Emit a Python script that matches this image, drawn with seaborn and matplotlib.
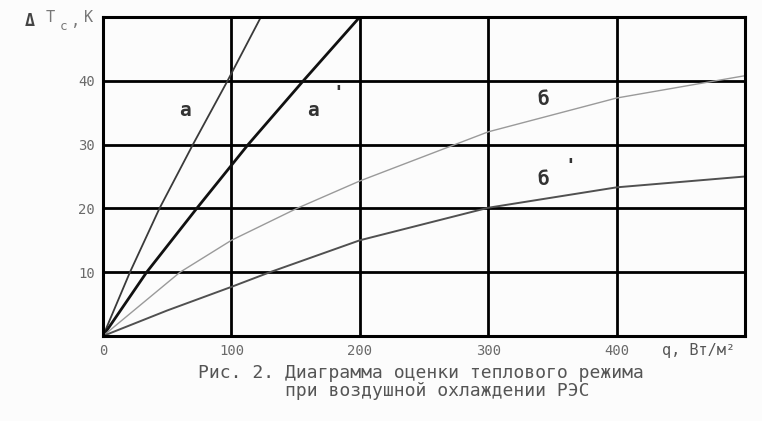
import matplotlib
matplotlib.use("Agg")
import matplotlib.pyplot as plt
import seaborn as sns
import pandas as pd

# ---- data ----
q_a = [0, 21, 44, 70, 97, 123]
t_a = [0, 10, 20, 30, 40, 50]

q_a2 = [0, 34, 73, 113, 156, 200]
t_a2 = [0, 10, 20, 30, 40, 50]

q_b = [0, 60, 100, 151, 200, 274, 300, 400, 500]
t_b = [0, 10, 15, 20, 24.3, 30, 32, 37.3, 40.8]

q_b2 = [0, 50, 100, 130, 200, 300, 400, 500]
t_b2 = [0, 4, 7.7, 10, 15, 20.1, 23.3, 25]

x_ticks = [0, 100, 200, 300, 400]
y_ticks = [10, 20, 30, 40]
curve_names = ["а", "а'", "б", "б'"]

sns.set_style("white")
plt.rcParams['font.family'] = ['DejaVu Sans Mono', 'DejaVu Sans']

frames = []
for name, q, t in zip(curve_names, [q_a, q_a2, q_b, q_b2], [t_a, t_a2, t_b, t_b2]):
    frames.append(pd.DataFrame({"q": q, "T": t, "curve": name}))
df = pd.concat(frames, ignore_index=True)

fig = plt.figure(figsize=(7.62, 4.21), dpi=100)
fig.patch.set_facecolor("#fcfcfc")
ax = fig.add_axes([103 / 762, 1 - 336 / 421, (745 - 103) / 762, (336 - 17) / 421])
ax.set_facecolor("#fcfcfc")

palette = {"а": "#3a3a3a", "а'": "#111111", "б": "#9a9a9a", "б'": "#505050"}
widths = {"а": 1.3, "а'": 2.0, "б": 1.0, "б'": 1.4}
for name in curve_names:
    sub = df[df["curve"] == name]
    sns.lineplot(data=sub, x="q", y="T", ax=ax, color=palette[name],
                 linewidth=widths[name], estimator=None, sort=False, legend=False)

ax.set_xlim(0, 500)
ax.set_ylim(0, 50)
ax.set_xticks(x_ticks)
ax.set_yticks(y_ticks)
ax.set_xticklabels([str(v) for v in x_ticks])
ax.set_yticklabels([str(v) for v in y_ticks])
ax.tick_params(axis="both", length=0, labelsize=10, colors="#6a6a6a")
ax.tick_params(axis="x", pad=6)
ax.tick_params(axis="y", pad=6)
ax.set_xlabel("")
ax.set_ylabel("")

ax.grid(True, color="black", linewidth=2.0)
ax.set_axisbelow(True)
for sp in ax.spines.values():
    sp.set_visible(True)
    sp.set_color("black")
    sp.set_linewidth(2.2)

# curve labels
lab_kw = dict(fontsize=14, fontweight="bold", color="#333333", ha="center", va="center")
ax.text(64, 35.4, "а", **lab_kw)
ax.text(163.5, 35.4, "а", **lab_kw)
ax.text(183, 38.0, "'", **lab_kw)
ax.text(342.7, 37.0, "б", **lab_kw)
ax.text(342.7, 24.5, "б", **lab_kw)
ax.text(363.7, 26.5, "'", **lab_kw)

# axis labels
fig.text(30 / 762, 1 - 21 / 421, "Δ", fontsize=12, fontweight="bold", color="#444444",
         ha="center", va="center")
fig.text(50 / 762, 1 - 18 / 421, "T", fontsize=11, color="#777777", ha="center", va="center")
fig.text(63 / 762, 1 - 27 / 421, "c", fontsize=9, color="#777777", ha="center", va="center")
fig.text(76 / 762, 1 - 21 / 421, ",", fontsize=11, color="#777777", ha="center", va="center")
fig.text(89 / 762, 1 - 18 / 421, "K", fontsize=11, color="#777777", ha="center", va="center")

fig.text(662 / 762, 1 - 351 / 421, "q, Вт/м²", fontsize=11, color="#555555",
         ha="left", va="center")

caption = ("Рис. 2. Диаграмма оценки теплового режима\n"
           "        при воздушной охлаждении РЭС")
fig.text(421 / 762, 1 - 382 / 421, caption, fontsize=13, color="#555555",
         ha="center", va="center", multialignment="left", linespacing=1.0)

fig.savefig("out.png", dpi=100, facecolor=fig.get_facecolor())
